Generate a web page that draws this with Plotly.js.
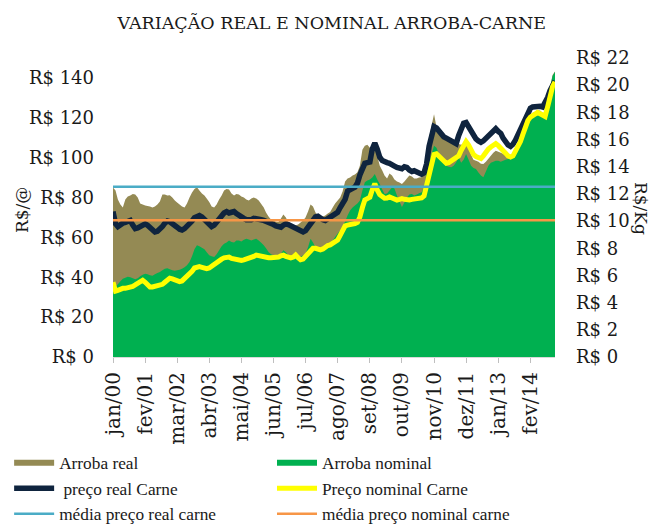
<!DOCTYPE html>
<html><head><meta charset="utf-8">
<script src="https://cdn.plot.ly/plotly-3.0.1.min.js"></script>
<style>html,body{margin:0;padding:0;background:#fff}#chart{width:653px;height:524px}</style>
</head><body><div id="chart"></div>
<script>
// Arroba real (R$/@), monthly jan/2000 - dez/2014
const arrobaReal = [
 85, 83.5, 79, 76.5, 75, 79, 80.5, 81, 81.8, 81.5, 80, 77,
 76.5, 76, 75.8, 75.5, 75, 75.5, 76.5, 78, 81.5, 81.5, 81, 81.2,
 80, 78.5, 77.5, 76.5, 75.5, 75, 77, 80, 82.5, 84.3, 85.2, 83.5,
 82, 81, 79.5, 77.7, 75.5, 75, 76.5, 79, 81, 83.5, 84.3, 84,
 82, 81, 81.8, 81.5, 80.5, 80, 79, 78.5, 79.5, 80, 79.5, 78.5,
 76.8, 75, 72.5, 70.5, 69, 68.5, 67.8, 67.7, 69.5, 71.5, 70, 67.5,
 66.8, 66.2, 66, 66.5, 67.5, 68.5, 70, 73, 76.5, 75.5, 72.5, 71,
 70.2, 70.5, 71, 72, 72.7, 75, 77, 78.5, 80, 83, 88, 89.5,
 90, 91, 91.5, 92.7, 96, 104, 106, 106.5, 105, 106, 107, 101,
 96, 93.5, 91, 89.5, 92, 91, 89, 88, 87.5, 86.8, 88, 89.5,
 91, 90.5, 89.5, 89.5, 90, 90.2, 92.5, 100, 110, 116, 121.8, 115.5,
 114, 113.5, 112, 110.5, 109, 108.2, 107.7, 107, 106.8, 106.5, 107, 107.5,
 105, 101.5, 99, 98.5, 98, 97, 96.8, 98, 99.5, 101, 102.5, 103.5,
 103, 102.5, 102, 101.5, 101, 101, 101.5, 102.5, 105, 108, 113, 117,
 120, 121.5, 122.5, 123, 124, 123.5, 122.5, 122, 127.5, 135.5, 141.5, 143.2
];
// Arroba nominal (R$/@)
const arrobaNominal = [
 37, 35.5, 36.5, 38, 39.3, 39.8, 40.2, 40, 39.5, 39, 39.5, 40.5,
 41.2, 41.8, 41.5, 41, 40.8, 41.5, 42.2, 42.7, 43.5, 44.3, 44.5, 44,
 43.5, 43.3, 43.5, 43.8, 44.3, 45, 46, 47.7, 50.5, 54, 56, 55.5,
 54.8, 54, 52.5, 51, 50.5, 50.2, 51.5, 53.5, 55.5, 56.8, 57.5, 58.5,
 57.7, 57.5, 58.5, 58.5, 58, 58.8, 59.3, 59, 58.5, 59, 59.3, 58.5,
 57.3, 56, 54.5, 52.7, 51.5, 51, 50.5, 50.2, 51.8, 53.5, 52.5, 51,
 50.2, 50.5, 51, 50.5, 50.2, 51, 51.8, 55, 59.3, 57.5, 55, 53.5,
 53.5, 54.3, 55.2, 56, 56.8, 58.5, 60.2, 62, 63.5, 65.5, 68, 71,
 73.5, 75, 76, 77, 78.5, 83.5, 87.7, 88.5, 89, 90, 91.8, 89,
 86.8, 84, 81.8, 82, 83.5, 85, 84.5, 81, 78, 75.2, 77.5, 80,
 81.5, 81.8, 81, 81.5, 82.2, 82.7, 85.2, 92, 98, 101.8, 106, 105,
 102, 98.5, 97, 96, 95.5, 95.2, 96, 97.7, 100.2, 97.5, 99, 101.8,
 99, 96, 94.8, 94.3, 92.5, 91, 90.2, 93, 96, 97.5, 98, 98.5,
 98.5, 98, 98.5, 99, 99.3, 99.5, 100, 101, 103.5, 106.8, 111, 115.2,
 118, 120.2, 121, 121.8, 123, 123.5, 122, 121, 126.8, 135, 141, 143
];
// Preço real Carne (R$/Kg)
const carneReal = [
 10.7, 9.8, 9.6, 9.8, 9.85, 9.9, 10.0, 10.05, 9.7, 9.45, 9.5, 9.6,
 9.75, 9.8, 9.7, 9.5, 9.3, 9.2, 9.25, 9.4, 9.6, 9.85, 10.0, 9.95,
 9.85, 9.7, 9.55, 9.4, 9.35, 9.45, 9.6, 9.8, 10.0, 10.25, 10.35, 10.4,
 10.3, 10.1, 9.85, 9.7, 9.6, 9.7, 9.9, 10.2, 10.45, 10.6, 10.7, 10.6,
 10.65, 10.7, 10.55, 10.4, 10.3, 10.2, 10.1, 10.05, 10.1, 10.2, 10.2, 10.15,
 10.1, 10.05, 10.0, 9.9, 9.85, 9.75, 9.65, 9.6, 9.55, 9.7, 9.8, 9.75,
 9.65, 9.6, 9.5, 9.4, 9.3, 9.2, 9.3, 9.6, 9.9, 10.15, 10.3, 10.35,
 10.2, 10.1, 10.05, 10.15, 10.3, 10.4, 10.5, 10.65, 11.0, 11.3, 11.6, 12.2,
 12.35, 12.4, 12.5, 12.8, 13.4, 13.95, 14.25, 14.3, 14.35, 15.3, 15.75, 15.3,
 14.7, 14.45, 14.35, 14.3, 14.25, 14.2, 14.05, 13.95, 13.9, 13.85, 14.0, 13.95,
 13.75, 13.65, 13.7, 13.6, 13.5, 13.45, 13.55, 14.2, 15.5, 16.3, 16.95, 16.85,
 16.6, 16.4, 16.2, 16.1, 16.0, 15.95, 15.85, 15.7, 16.3, 16.8, 17.2, 17.25,
 16.9, 16.6, 16.3, 16.05, 15.9, 15.8, 15.9, 16.1, 16.3, 16.45, 16.7, 16.8,
 16.6, 16.45, 16.1, 15.8, 15.6, 15.5, 15.65, 15.95, 16.35, 16.8, 17.2, 17.5,
 17.9, 18.3, 18.4, 18.45, 18.5, 18.45, 18.4, 18.7, 19.1, 19.6, 20.0, 20.3
];
// Preço nominal Carne (R$/Kg)
const carneNominal = [
 5.5, 4.85, 4.9, 5.0, 5.05, 5.05, 5.1, 5.1, 5.2, 5.3, 5.4, 5.55,
 5.65, 5.5, 5.3, 5.15, 5.15, 5.2, 5.25, 5.3, 5.35, 5.5, 5.7, 5.8,
 5.75, 5.65, 5.55, 5.55, 5.6, 5.75, 5.9, 6.05, 6.3, 6.55, 6.6, 6.65,
 6.6, 6.55, 6.5, 6.55, 6.7, 6.8, 6.95, 7.1, 7.2, 7.3, 7.35, 7.35,
 7.25, 7.2, 7.15, 7.1, 7.1, 7.15, 7.2, 7.25, 7.3, 7.4, 7.5, 7.45,
 7.4, 7.35, 7.3, 7.3, 7.3, 7.32, 7.3, 7.35, 7.45, 7.5, 7.4, 7.3,
 7.3, 7.35, 7.5, 7.3, 7.15, 7.2, 7.4, 7.7, 7.9, 8.0, 8.0, 7.95,
 7.88, 7.95, 8.1, 8.2, 8.25, 8.35, 8.45, 8.6, 8.95, 9.3, 9.65, 9.7,
 9.72, 9.75, 9.82, 9.9, 10.3, 11.0, 11.55, 11.65, 11.75, 12.3, 12.75, 12.3,
 11.95, 11.8, 11.68, 11.7, 11.78, 11.7, 11.6, 11.55, 11.6, 11.66, 11.6, 11.55,
 11.55, 11.6, 11.62, 11.65, 11.65, 11.7, 11.85, 12.6, 13.4, 14.1, 14.9, 14.95,
 14.8, 14.6, 14.4, 14.25, 14.3, 14.4, 14.5, 14.6, 14.8, 15.2, 15.6, 15.85,
 15.6, 15.2, 14.9, 14.75, 14.65, 14.6, 14.8, 15.1, 15.3, 15.45, 15.6, 15.7,
 15.55, 15.4, 15.2, 15.0, 14.8, 14.72, 14.8, 15.1, 15.5, 15.85, 16.4, 17.0,
 17.4, 17.65, 17.75, 17.8, 18.0, 17.9, 17.75, 17.7, 18.4, 19.3, 19.9, 20.25
];
const mediaReal = 12.52;
const mediaNominal = 10.07;

const tickDates = ['2000-01-01','2001-02-01','2002-03-01','2003-04-01','2004-05-01','2005-06-01','2006-07-01',
  '2007-08-01','2008-09-01','2009-10-01','2010-11-01','2011-12-01','2013-01-01','2014-02-01'];
const tickLabels = ['jan/00','fev/01','mar/02','abr/03','mai/04','jun/05','jul/06',
  'ago/07','set/08','out/09','nov/10','dez/11','jan/13','fev/14'];

const months = [];
for (let y = 2000; y <= 2014; y++) for (let m = 1; m <= 12; m++) months.push(y + '-' + String(m).padStart(2, '0') + '-01');

const FONT = 'DejaVu Serif';
const LFONT = 'Liberation Serif';
const TXT = '#1a1a1a';

const traces = [
  {x: months, y: arrobaReal, name: 'Arroba real', type: 'scatter', mode: 'none', fill: 'tozeroy', fillcolor: '#948A54', yaxis: 'y', legend: 'legend'},
  {x: months, y: arrobaNominal, name: 'Arroba nominal', type: 'scatter', mode: 'none', fill: 'tozeroy', fillcolor: '#00B050', yaxis: 'y', legend: 'legend2'},
  {x: months, y: carneReal, name: ' preço real Carne', type: 'scatter', mode: 'lines', line: {color: '#0F243E', width: 5.5}, yaxis: 'y2', legend: 'legend'},
  {x: months, y: carneNominal, name: 'Preço nominal Carne', type: 'scatter', mode: 'lines', line: {color: '#FFFF00', width: 5}, yaxis: 'y2', legend: 'legend2'},
  {x: months, y: months.map(() => mediaReal), name: 'média preço real carne', type: 'scatter', mode: 'lines', line: {color: '#4BACC6', width: 2.5}, yaxis: 'y2', legend: 'legend'},
  {x: months, y: months.map(() => mediaNominal), name: 'média preço nominal carne', type: 'scatter', mode: 'lines', line: {color: '#F79646', width: 2.5}, yaxis: 'y2', legend: 'legend2'}
];

const legendTop = (524 - 445) / 524;
const legendCommon = {orientation: 'v', xref: 'paper', xanchor: 'left', yref: 'container', y: legendTop, yanchor: 'top',
  traceorder: 'normal', itemwidth: 40, font: {family: LFONT, size: 17.3, color: TXT}, bgcolor: 'rgba(0,0,0,0)'};

const layout = {
  width: 653, height: 524,
  margin: {l: 113, r: 98, t: 58, b: 167},
  paper_bgcolor: '#fff', plot_bgcolor: '#fff',
  font: {family: FONT, color: TXT},
  title: {text: 'VARIAÇÃO REAL E NOMINAL ARROBA-CARNE', font: {family: FONT, size: 17.5, color: TXT},
          x: 0.508, xanchor: 'center', y: 0.957, yanchor: 'middle'},
  xaxis: {type: 'date', range: ['2000-01-01', '2014-12-01'], tickvals: tickDates, ticktext: tickLabels, automargin: false,
          tickangle: -90, ticks: 'outside', ticklen: 5, tickcolor: '#BFBFBF', showline: true, linecolor: '#D9D9D9',
          ticklabelstandoff: 1, showgrid: false, zeroline: false, tickfont: {family: FONT, size: 20, color: TXT}},
  yaxis: {range: [0, 150], dtick: 20, tickprefix: 'R$ ', showgrid: false, zeroline: false, showline: false, automargin: false,
          ticks: '', ticklabelstandoff: 18, tickfont: {family: FONT, size: 18, color: TXT}},
  yaxis2: {range: [0, 22], dtick: 2, tickprefix: 'R$ ', overlaying: 'y', side: 'right', showgrid: false, automargin: false,
           zeroline: false, showline: false, ticks: '', ticklabelstandoff: 20, tickfont: {family: FONT, size: 18, color: TXT}},
  showlegend: true,
  legend: Object.assign({}, legendCommon, {x: -0.235}),
  legend2: Object.assign({}, legendCommon, {x: (272 - 113) / 442}),
  annotations: [
    {text: 'R$/@', xref: 'paper', yref: 'paper', x: (22 - 113) / 442, y: (357 - 210) / 299, showarrow: false,
     textangle: -90, font: {family: FONT, size: 17, color: TXT}, xanchor: 'center', yanchor: 'middle'},
    {text: 'R$/Kg', xref: 'paper', yref: 'paper', x: (641 - 113) / 442, y: (357 - 208) / 299, showarrow: false,
     textangle: 90, font: {family: FONT, size: 17, color: TXT}, xanchor: 'center', yanchor: 'middle'}
  ]
};

Plotly.newPlot('chart', traces, layout, {displayModeBar: false, staticPlot: true});
</script>
</body></html>
